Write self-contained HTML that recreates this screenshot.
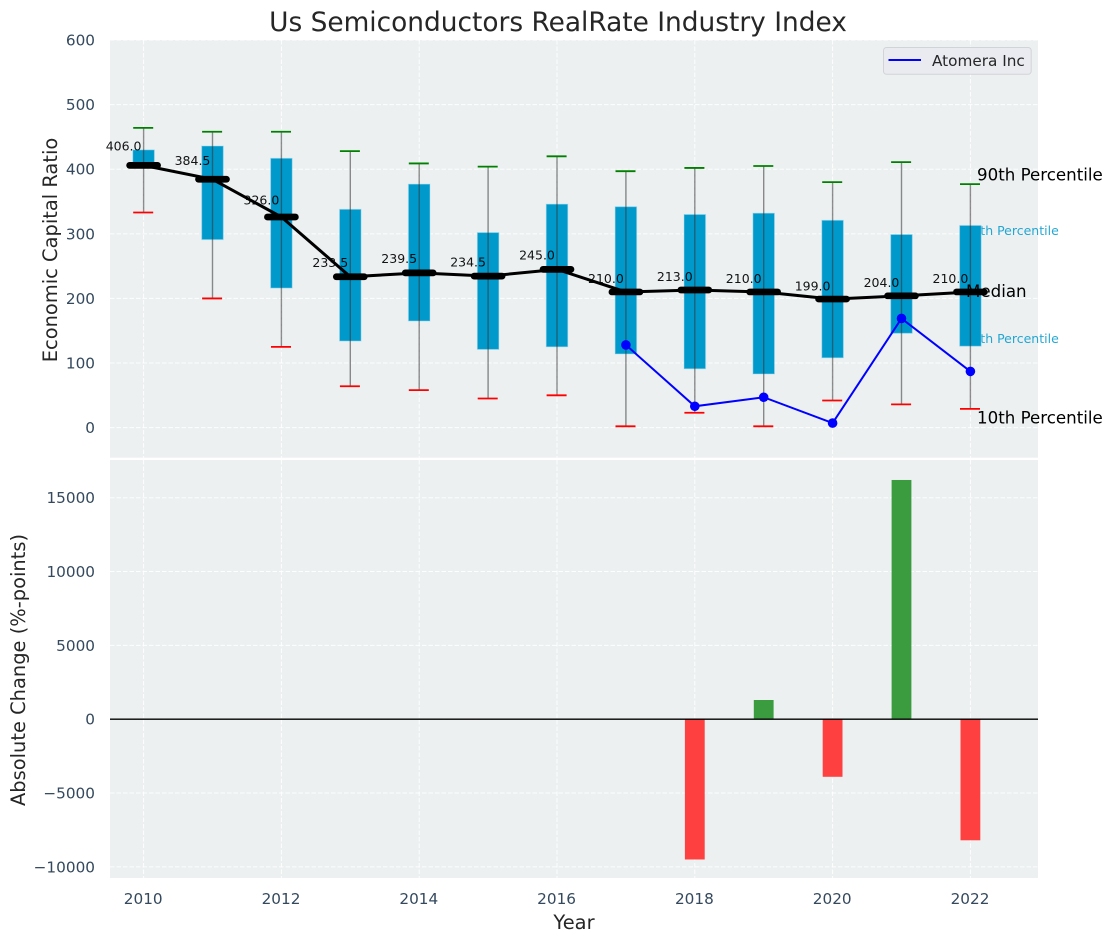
<!DOCTYPE html>
<html lang="en">
<head>
<meta charset="utf-8">
<title>Us Semiconductors RealRate Industry Index</title>
<style>
html,body{margin:0;padding:0;background:#fff;width:1112px;height:942px;overflow:hidden}
svg{display:block;font-family:"DejaVu Sans","Liberation Sans",sans-serif}
</style>
</head>
<body>
<svg id="chart" xmlns="http://www.w3.org/2000/svg" width="1112" height="942" viewBox="0 0 1112 942"></svg>
<script>
const years = [2010,2011,2012,2013,2014,2015,2016,2017,2018,2019,2020,2021,2022];
const p90 = [464,458,458,428,409,404,420,397,402,405,380,411,377];
const q3 = [430,436,417,338,377,302,346,342,330,332,321,299,313];
const medians = [406.0,384.5,326.0,233.5,239.5,234.5,245.0,210.0,213.0,210.0,199.0,204.0,210.0];
const q1 = [406,291,216,134,165,121,125,114,91,83,108,146,126];
const p10 = [333,200,125,64,58,45,50,2,23,2,42,36,29];
const companyYears = [2017,2018,2019,2020,2021,2022];
const companyValues = [128,33,47,7,169,87];
const changeYears = [2018,2019,2020,2021,2022];
const changeValues = [-9500,1300,-3900,16200,-8200];
const xTicks = [2010,2012,2014,2016,2018,2020,2022];
const topTicks = [0,100,200,300,400,500,600];
const bottomTicks = [-10000,-5000,0,5000,10000,15000];

const svg = document.getElementById('chart');
const NS = 'http://www.w3.org/2000/svg';
const x = v => 143.6 + (v - 2010) * 68.9;
const yTop = v => 427.6 - v * 0.6459;
const yBottom = v => 719.2 - v * 0.014767;

function make(tag, attrs, text) {
  const el = document.createElementNS(NS, tag);
  for (const k in attrs) el.setAttribute(k, attrs[k]);
  if (text !== undefined) el.textContent = text;
  svg.appendChild(el);
  return el;
}

let el;
el = make('rect', {x:110, y:40, width:928, height:417.7, fill:'#ecf0f1'});


el = make('rect', {x:110, y:460, width:928, height:418, fill:'#ecf0f1'});



const gridStyle = {stroke:'#fff', 'stroke-width':1, 'stroke-dasharray':'4.5 2', 'stroke-opacity':0.9};
xTicks.forEach(t => {
  el = make('line', {x1:x(t), x2:x(t), y1:40, y2:457.7, ...gridStyle});
  
  
  el = make('line', {x1:x(t), x2:x(t), y1:460, y2:878, ...gridStyle});
  
  
  el = make('text', {x:x(t) - 0.4, y:904, 'text-anchor':'middle', 'font-size':15.28, fill:'#34495e'}, t);
  
  
});
topTicks.forEach(t => {
  el = make('line', {x1:110, x2:1038, y1:yTop(t), y2:yTop(t), ...gridStyle});
  
  
  el = make('text', {x:95, y:yTop(t) + 5.5, 'text-anchor':'end', 'font-size':15.28, fill:'#34495e'}, t);
  
  
});
bottomTicks.forEach(t => {
  el = make('line', {x1:110, x2:1038, y1:yBottom(t), y2:yBottom(t), ...gridStyle});
  
  
  el = make('text', {x:95, y:yBottom(t) + 5.5, 'text-anchor':'end', 'font-size':15.28, fill:'#34495e'}, String(t).replace('-', '\u2212'));
  
  
});

const lastX = x(years[years.length - 1]);
el = make('text', {x:lastX - 6, y:yTop(q3[12]) + 9.5, 'font-size':12.5, fill:'#0099cc', 'fill-opacity':0.85}, '75th Percentile');


el = make('text', {x:lastX - 6, y:yTop(q1[12]) - 3.2, 'font-size':12.5, fill:'#0099cc', 'fill-opacity':0.85}, '25th Percentile');



years.forEach((yr, i) => {
  el = make('rect', {x:x(yr) - 10.8, y:yTop(q3[i]), width:21.6, height:yTop(q1[i]) - yTop(q3[i]), fill:'#0099cc', stroke:'#a8dcee', 'stroke-opacity':0.5, 'stroke-width':1});
  
  
});
years.forEach((yr, i) => {
  el = make('line', {x1:x(yr), x2:x(yr), y1:yTop(p90[i]), y2:yTop(p10[i]), stroke:'#333', 'stroke-opacity':0.55, 'stroke-width':1.4});
  
  
  el = make('line', {x1:x(yr) - 10.4, x2:x(yr) + 9.6, y1:yTop(p90[i]), y2:yTop(p90[i]), stroke:'#008000', 'stroke-width':1.8});
  
  
  el = make('line', {x1:x(yr) - 10.4, x2:x(yr) + 9.6, y1:yTop(p10[i]), y2:yTop(p10[i]), stroke:'#ff0000', 'stroke-width':1.8});
  
  
});

el = make('polyline', {points:years.map((yr, i) => x(yr) + ',' + yTop(medians[i])).join(' '), fill:'none', stroke:'#000', 'stroke-width':3});


years.forEach((yr, i) => {
  el = make('line', {x1:x(yr) - 14, x2:x(yr) + 14, y1:yTop(medians[i]), y2:yTop(medians[i]), stroke:'#000', 'stroke-width':6.7, 'stroke-linecap':'round'});
  
  
  el = make('text', {x:x(yr) - 20, y:yTop(medians[i] * 1.05) - 2, 'text-anchor':'middle', 'font-size':12.5, fill:'#000', 'fill-opacity':0.92}, medians[i].toFixed(1));
  
  
});

el = make('polyline', {points:companyYears.map((yr, i) => x(yr) + ',' + yTop(companyValues[i])).join(' '), fill:'none', stroke:'#0000ff', 'stroke-width':2});


companyYears.forEach((yr, i) => {
  el = make('circle', {cx:x(yr), cy:yTop(companyValues[i]), r:4.8, fill:'#0000ff'});
  
  
});

el = make('text', {x:977, y:180.5, 'font-size':16.67, fill:'#000'}, '90th Percentile');


el = make('text', {x:966, y:297, 'font-size':16.67, fill:'#000'}, 'Median');


el = make('text', {x:977, y:423.5, 'font-size':16.67, fill:'#000'}, '10th Percentile');



changeYears.forEach((yr, i) => {
  const v = changeValues[i];
  const top = Math.min(yBottom(v), yBottom(0));
  el = make('rect', {x:x(yr) - 9.9, y:top, width:19.8, height:Math.abs(yBottom(v) - yBottom(0)), fill:v >= 0 ? '#3b9b3f' : '#ff4040'});
  
  
});
el = make('line', {x1:110, x2:1038, y1:yBottom(0), y2:yBottom(0), stroke:'#000', 'stroke-width':1.4});



el = make('rect', {x:883.5, y:47.5, width:147.7, height:26.8, rx:3, fill:'#e9ebf1', stroke:'#d2d3d6', 'stroke-width':1});


el = make('line', {x1:888.5, x2:921, y1:60, y2:60, stroke:'#0000ff', 'stroke-width':2});


el = make('text', {x:932, y:66, 'font-size':15.28, fill:'#262626'}, 'Atomera Inc');



el = make('text', {x:558, y:31, 'text-anchor':'middle', 'font-size':26.4, fill:'#262626'}, 'Us Semiconductors RealRate Industry Index');


el = make('text', {x:574, y:929, 'text-anchor':'middle', 'font-size':19.44, fill:'#262626'}, 'Year');


el = make('text', {transform:'translate(57 250) rotate(-90)', 'text-anchor':'middle', 'font-size':19.44, fill:'#262626'}, 'Economic Capital Ratio');


el = make('text', {transform:'translate(25 670) rotate(-90)', 'text-anchor':'middle', 'font-size':19.44, fill:'#262626'}, 'Absolute Change (%-points)');


</script>
</body>
</html>
